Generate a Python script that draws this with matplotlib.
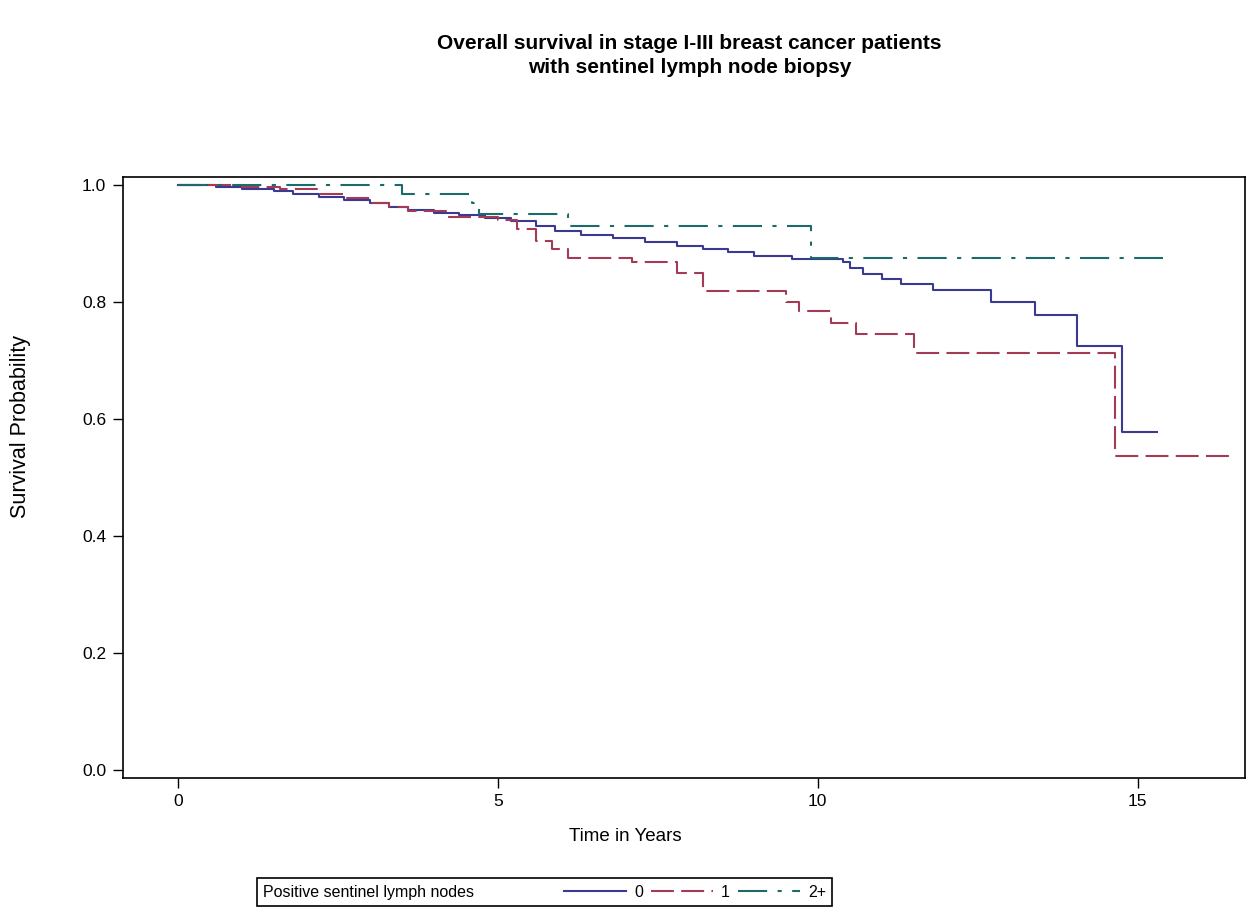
import matplotlib
matplotlib.use("Agg")
import matplotlib.pyplot as plt
from matplotlib.patches import Rectangle

plt.rcParams['font.family'] = ['Liberation Sans', 'DejaVu Sans']

# Kaplan-Meier estimates (step after each time)
t0 = [0, 0.6, 1.0, 1.5, 1.8, 2.2, 2.6, 3.0, 3.3, 3.6, 4.0, 4.4, 4.8, 5.2, 5.6,
      5.9, 6.3, 6.8, 7.3, 7.8, 8.2, 8.6, 9.0, 9.6, 10.4, 10.5, 10.7, 11.0,
      11.3, 11.8, 12.7, 13.4, 14.05, 14.75, 15.3]
s0 = [1.0, 0.997, 0.993, 0.99, 0.985, 0.98, 0.975, 0.97, 0.963, 0.958, 0.953,
      0.948, 0.943, 0.938, 0.93, 0.922, 0.915, 0.91, 0.903, 0.895, 0.89, 0.885,
      0.878, 0.873, 0.868, 0.858, 0.848, 0.84, 0.83, 0.82, 0.80, 0.778, 0.725,
      0.578, 0.578]

t1 = [0, 1.0, 1.6, 2.2, 2.6, 3.0, 3.3, 3.6, 4.2, 5.0, 5.3, 5.6, 5.85, 6.1,
      7.1, 7.8, 8.2, 9.5, 9.7, 10.2, 10.6, 11.5, 14.65, 16.5]
s1 = [1.0, 0.997, 0.993, 0.985, 0.977, 0.97, 0.962, 0.955, 0.945, 0.94, 0.925,
      0.905, 0.89, 0.875, 0.868, 0.85, 0.818, 0.80, 0.785, 0.765, 0.745, 0.713,
      0.537, 0.537]

t2 = [0, 3.5, 4.6, 4.7, 6.1, 9.9, 15.4]
s2 = [1.0, 0.985, 0.97, 0.95, 0.93, 0.875, 0.875]

groups = ['0', '1', '2+']
colors = ['#3A3A92', '#A43B55', '#1D6B69']

fig = plt.figure(figsize=(12.47, 9.21), dpi=100)
ax = fig.add_axes([0.0986, 0.155, 0.8994, 0.653])

l0, = ax.step(t0, s0, where='post', color=colors[0], lw=1.5)
l1, = ax.step(t1, s1, where='post', color=colors[1], lw=1.5, dashes=(11, 3.5))
l2, = ax.step(t2, s2, where='post', color=colors[2], lw=1.5, dashes=(14, 5, 2, 5))

ax.set_xlim(-0.86, 16.67)
ax.set_ylim(-0.014, 1.014)
ax.set_xticks([0, 5, 10, 15])
ax.set_yticks([0.0, 0.2, 0.4, 0.6, 0.8, 1.0])
ax.set_yticklabels(['0.0', '0.2', '0.4', '0.6', '0.8', '1.0'])
ax.tick_params(direction='out', length=7, width=1, labelsize=12.5, pad=5)
ax.tick_params(axis='x', pad=4)
for sp in ax.spines.values():
    sp.set_linewidth(1.2)

ax.set_xlabel('Time in Years', fontsize=13.5)
ax.xaxis.set_label_coords(0.448, -0.082)
ax.set_ylabel('Survival Probability', fontsize=15.5)
ax.yaxis.set_label_coords(-0.082, 0.585)
fig.suptitle('Overall survival in stage I-III breast cancer patients\nwith sentinel lymph node biopsy',
             fontsize=15, fontweight='bold', x=0.553, y=0.963, linespacing=1.32)

# legend strip below the plot
fig.patches.append(Rectangle((0.206, 0.016), 0.461, 0.031, transform=fig.transFigure,
                             fill=False, edgecolor='black', lw=1.2))
fig.text(0.211, 0.031, 'Positive sentinel lymph nodes', fontsize=11.5, va='center')
fig.legend([l0, l1, l2], groups, loc='center left', bbox_to_anchor=(0.452, 0.031),
           ncol=3, frameon=False, fontsize=11.5, handlelength=3.9, handletextpad=0.5,
           columnspacing=0.5, borderaxespad=0, borderpad=0)

fig.savefig('out.png', dpi=100)
